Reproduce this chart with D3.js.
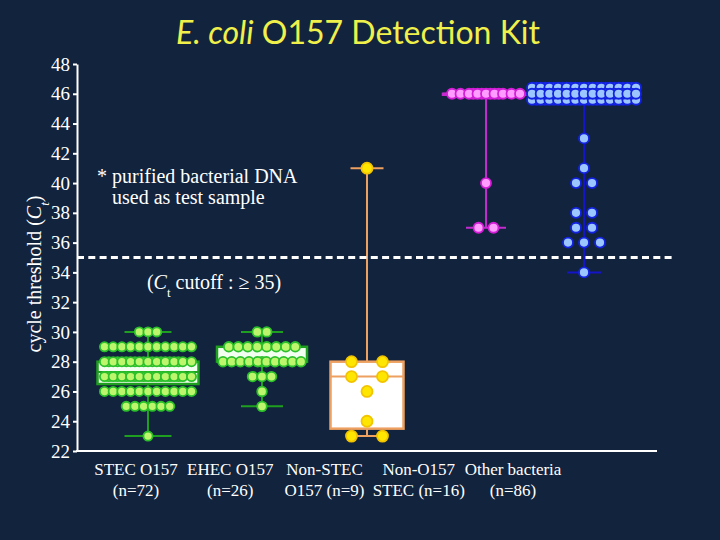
<!DOCTYPE html>
<html>
<head>
<meta charset="utf-8">
<script src="https://cdn.jsdelivr.net/npm/d3@7"></script>
<style>
body { margin: 0; background: #12233d; }
svg { display: block; }
.serif { font-family: "Liberation Serif", "DejaVu Serif", serif; }
</style>
</head>
<body>
<div id="chart"></div>
<script>
// groups along the bottom, and their two-line labels
var groups = ["STEC O157", "EHEC O157", "Non-STEC O157", "Non-O157 STEC", "Other bacteria"]
var labelTop = ["STEC O157", "EHEC O157", "Non-STEC", "Non-O157", "Other bacteria"]
var labelBottom = ["(n=72)", "(n=26)", "O157 (n=9)", "STEC (n=16)", "(n=86)"]

// Ct values seen in each group, and how many samples sit at each value
var stecCt = [30, 29, 28, 27, 26, 25, 23]
var stecN = [3, 11, 20, 20, 11, 6, 1]
var ehecCt = [30, 29, 28, 27, 26, 25]
var ehecN = [2, 8, 11, 3, 1, 1]
var nonStecCt = [41, 28, 27, 26, 24, 23]
var nonStecN = [1, 2, 2, 1, 1, 2]
var nonO157Ct = [46, 40, 37]
var nonO157N = [13, 1, 2]
var otherCt = [46, 43, 41, 40, 38, 37, 36, 34]
var otherN = [74, 1, 1, 2, 2, 2, 3, 1]

// box plot summary per group
var q1 = [26.5, 28, 23.5, 46, 46]
var median = [27.3, 28, 27, 46, 46]
var q3 = [28, 29, 28, 46, 46]
var whiskLow = [23, 25, 23, 37, 34]
var whiskHigh = [30, 30, 41, 46, 46]

var cutoff = 35
var yTicks = d3.range(22, 49, 2)

var levels = [stecCt, ehecCt, nonStecCt, nonO157Ct, otherCt]
var counts = [stecN, ehecN, nonStecN, nonO157N, otherN]

// look of each group (colours and spread of the dots)
var look = [
   {line: "#1f9f1f", fill: "#f2fff0", dot: "#bdf56c", ring: "#2bc02b", r: 4.6, gap: 8.7, span: 87, boxW: 101, capW: 47},
   {line: "#1f9f1f", fill: "#f2fff0", dot: "#bdf56c", ring: "#2bc02b", r: 4.8, gap: 9.5, span: 78, boxW: 90, capW: 42},
   {line: "#eda060", fill: "#ffffff", dot: "#ffe600", ring: "#f2c400", r: 5.5, gap: 31, span: 31, boxW: 73, capW: 33},
   {line: "#c22ccf", fill: "#c22ccf", dot: "#ff9cff", ring: "#d21ed6", r: 5, gap: 15, span: 68, boxW: 86, capW: 40},
   {line: "#1414c8", fill: "#1414c8", dot: "#9cc6ff", ring: "#1222e0", r: 5, gap: 16, span: 104, boxW: 112, capW: 34}
]

var width = 720
var height = 540

var svg = d3.select("#chart")
   .append("svg")
   .attr("width", width)
   .attr("height", height)

svg.append("rect")
   .attr("width", width)
   .attr("height", height)
   .attr("fill", "#12233d")

var y = d3.scaleLinear().domain([22, 48]).range([451, 64])
var x = d3.scaleOrdinal().domain(groups).range([148, 262, 367, 486, 584])
var xLabel = d3.scalePoint().domain(groups).range([136, 513])

// title
var title = svg.append("text")
   .attr("x", 358)
   .attr("y", 44)
   .attr("text-anchor", "middle")
   .attr("font-family", "Lato, sans-serif")
   .attr("font-size", 32)
   .attr("fill", "#f0f04a")
title.append("tspan").attr("font-style", "italic").text("E. coli")
title.append("tspan").text(" O157 Detection Kit")

// y axis
var yAxis = svg.append("g")
   .attr("transform", "translate(77,0)")
   .call(d3.axisLeft(y).tickValues(yTicks).tickSize(4).tickSizeOuter(0).tickPadding(3))
yAxis.attr("font-family", null).attr("font-size", null)
yAxis.select(".domain").attr("stroke", "white").attr("stroke-width", 2)
yAxis.selectAll(".tick line").attr("stroke", "white").attr("stroke-width", 2)
yAxis.selectAll(".tick text")
   .attr("class", "serif")
   .attr("fill", "white")
   .attr("font-size", 19)

// x axis line, no ticks
svg.append("line")
   .attr("x1", 76).attr("x2", 657)
   .attr("y1", y(22)).attr("y2", y(22))
   .attr("stroke", "white")
   .attr("stroke-width", 2)

// y axis title
var yTitle = svg.append("text")
   .attr("class", "serif")
   .attr("transform", "translate(41,274) rotate(-90)")
   .attr("text-anchor", "middle")
   .attr("fill", "white")
   .attr("font-size", 20)
yTitle.append("tspan").text("cycle threshold (")
yTitle.append("tspan").attr("font-style", "italic").text("C")
yTitle.append("tspan").attr("baseline-shift", "sub").attr("font-size", 13).attr("font-style", "italic").text("t")
yTitle.append("tspan").text(")")

// category labels
svg.selectAll("labTop")
   .data(groups)
   .enter()
   .append("text")
   .attr("class", "serif")
   .attr("x", function(d) { return xLabel(d) })
   .attr("y", 475)
   .attr("text-anchor", "middle")
   .attr("fill", "white")
   .attr("font-size", 17)
   .text(function(d, i) { return labelTop[i] })

svg.selectAll("labBottom")
   .data(groups)
   .enter()
   .append("text")
   .attr("class", "serif")
   .attr("x", function(d) { return xLabel(d) })
   .attr("y", 496)
   .attr("text-anchor", "middle")
   .attr("fill", "white")
   .attr("font-size", 17)
   .text(function(d, i) { return labelBottom[i] })

// spread dots of one value sideways, stacking extra layers when the row gets too wide
function layoutDots(vals, ns, st) {
   var out = []
   vals.forEach(function(v, i) {
      var n = ns[i]
      if ((n - 1) * st.gap <= st.span) {
         for (var j = 0; j < n; j++) {
            out.push({v: v, dx: (j - (n - 1) / 2) * st.gap, dy: 0, layer: 0})
         }
         return
      }
      var per = Math.floor(st.span / 8.5) + 1
      var step = st.span / (per - 1)
      var left = n
      var k = 0
      var dys = [0, 0, -6, -6, 6, 6]
      while (left > 0) {
         var cap = (k % 2 == 0) ? per : per - 1
         var m = Math.min(cap, left)
         var start = Math.floor((cap - m) / 2)
         var base = -st.span / 2 + (k % 2 == 0 ? 0 : step / 2)
         for (var j = 0; j < m; j++) {
            out.push({v: v, dx: base + (start + j) * step, dy: dys[k % 6], layer: k})
         }
         left -= m
         k += 1
      }
   })
   // back layers first so the front row ends up on top
   out.sort(function(a, b) { return b.layer - a.layer })
   return out
}

groups.forEach(function(g, i) {
   var st = look[i]
   var cx = x(g)
   var grp = svg.append("g")

   // whiskers
   grp.append("line")
      .attr("x1", cx).attr("x2", cx)
      .attr("y1", y(q3[i])).attr("y2", y(whiskHigh[i]))
      .attr("stroke", st.line).attr("stroke-width", 2)
   grp.append("line")
      .attr("x1", cx).attr("x2", cx)
      .attr("y1", y(q1[i])).attr("y2", y(whiskLow[i]))
      .attr("stroke", st.line).attr("stroke-width", 2)
   ;[whiskLow[i], whiskHigh[i]].forEach(function(w) {
      grp.append("line")
         .attr("x1", cx - st.capW / 2).attr("x2", cx + st.capW / 2)
         .attr("y1", y(w)).attr("y2", y(w))
         .attr("stroke", st.line).attr("stroke-width", 2)
   })

   // box
   grp.append("rect")
      .attr("x", cx - st.boxW / 2)
      .attr("y", y(q3[i]))
      .attr("width", st.boxW)
      .attr("height", Math.max(y(q1[i]) - y(q3[i]), 1))
      .attr("fill", st.fill)
      .attr("stroke", st.line)
      .attr("stroke-width", 2.5)
   grp.append("line")
      .attr("x1", cx - st.boxW / 2).attr("x2", cx + st.boxW / 2)
      .attr("y1", y(median[i])).attr("y2", y(median[i]))
      .attr("stroke", st.line).attr("stroke-width", 2)

   // dots
   grp.selectAll("dots")
      .data(layoutDots(levels[i], counts[i], st))
      .enter()
      .append("circle")
      .attr("cx", function(d) { return cx + d.dx })
      .attr("cy", function(d) { return y(d.v) + d.dy })
      .attr("r", st.r)
      .attr("fill", st.dot)
      .attr("stroke", st.ring)
      .attr("stroke-width", 1.8)
})

// cutoff line
svg.append("line")
   .attr("x1", 77).attr("x2", 672)
   .attr("y1", y(cutoff)).attr("y2", y(cutoff))
   .attr("stroke", "white")
   .attr("stroke-width", 3)
   .attr("stroke-dasharray", "7,4.3")

// notes
var note = svg.append("g")
   .attr("class", "serif")
   .attr("fill", "white")
   .attr("font-size", 20)
note.append("text").attr("x", 97).attr("y", 183).text("* purified bacterial DNA")
note.append("text").attr("x", 112).attr("y", 204).text("used as test sample")
var cut = note.append("text").attr("x", 214).attr("y", 289).attr("text-anchor", "middle")
cut.append("tspan").text("(")
cut.append("tspan").attr("font-style", "italic").text("C")
cut.append("tspan").attr("baseline-shift", "sub").attr("font-size", 13).text("t")
cut.append("tspan").text(" cutoff : \u2265 35)")
</script>
</body>
</html>
